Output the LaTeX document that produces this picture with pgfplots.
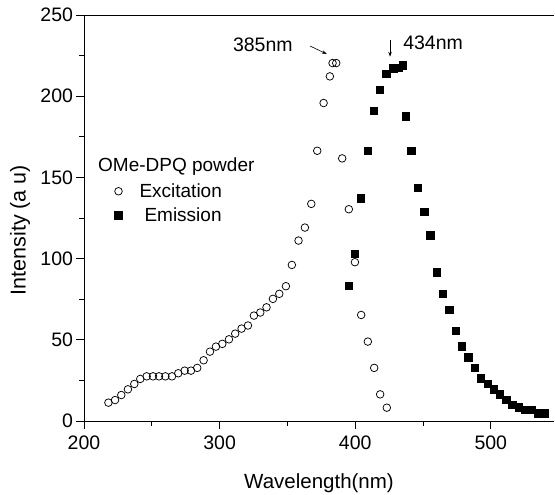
\documentclass[border=0pt]{standalone}
\usepackage{pgfplots}
\pgfplotsset{compat=1.18}
\usepackage{fontspec}
\setmainfont{Liberation Sans}
\usetikzlibrary{arrows.meta}
\begin{document}
\begin{tikzpicture}
\begin{axis}[
 scale only axis, width=470bp, height=406bp,
 xmin=200, xmax=546.6, ymin=0, ymax=250,
 axis x line*=bottom, axis y line*=left,
 xtick={200,300,400,500}, ytick={0,50,...,250},
 minor x tick num=1, minor y tick num=1,
 tick align=outside, major tick length=7.5bp, minor tick length=4.5bp,
 tick style={black, line width=0.9bp},
 axis line style={line width=0.9bp},
 /pgf/number format/assume math mode=true,
 ticklabel style={font=\fontsize{19.5bp}{23bp}\selectfont},
 xticklabel style={yshift=-4bp},
 xlabel={Wavelength(nm)}, ylabel={Intensity (a u)},
 label style={font=\fontsize{20.5bp}{24bp}\selectfont},
 xlabel style={at={([yshift=-67bp]axis description cs:0.5,0)}, anchor=base},
 ylabel style={at={([xshift=-64bp]axis description cs:0,0.47)}, anchor=center, font=\fontsize{21.5bp}{25bp}\selectfont},
 legend style={at={(axis cs:222.5,147.5)}, anchor=north west, draw=none, fill=none,
   font=\fontsize{19bp}{23bp}\selectfont, row sep=5bp, inner sep=0pt},
 legend cell align=left,
 legend image code/.code={\draw[#1] plot coordinates {(0bp,0bp)}; \path[draw=none] (19bp,0bp);},
]
\coordinate (O) at (rel axis cs:0,0);
\draw[line width=0.9bp] (rel axis cs:0,1) -- (rel axis cs:1,1);
\addplot[only marks, mark=o, mark size=3.8bp, mark options={line width=0.75bp, black}] table {
218 11.3
222.9 12.9
227.5 16
232.4 19.5
237.1 22.8
241.5 25.9
246.2 27.5
250.9 27.5
255.3 27.5
260 27.5
264.9 27.5
269.5 29.4
274.2 31
278.9 31
283.5 32.7
288.2 37.4
292.9 42.7
297.3 45.8
302 47.5
306.9 50.3
311.5 53.8
316.2 56.9
320.9 58.8
325.3 64.9
330 66.8
334.6 70
339.3 75.2
344 78.3
348.9 83
353.3 96.1
358.2 111.1
362.9 119.1
367.6 133.7
372 166.4
376.7 195.8
381.3 212.2
383.3 220.4
386 220.4
390.4 161.7
395.3 130.4
399.8 97.8
404.4 65.3
409.3 48.9
414 32.7
418.4 16.4
423.3 8.2
};
\addlegendentry{Excitation}
\addplot[only marks, mark=square*, mark size=3.7bp, mark options={black, line width=0pt}] table {
395.3 83.2
399.8 102.7
404.4 137
409.3 166.4
413.8 191
418.3 204
423.2 213.8
428.1 217
432.3 217.5
435.3 218.8
437.3 187.6
441.5 166.4
446.4 143.4
451.1 128.8
455.5 114.2
460.2 91.4
464.9 78.3
469.5 68.4
474.2 55.5
478.9 45.8
483.5 39.2
488.2 32.7
492.9 26.1
497.8 22.8
502.2 19.5
506.9 16.2
511.5 12.9
515.9 9.9
520.9 8.2
525.3 6.6
529.9 6.6
534.8 4.7
539.6 4.7
};
\addlegendentry{\hspace{5bp}Emission}
\node[anchor=west, font=\fontsize{19bp}{23bp}\selectfont, inner sep=0pt] at (axis cs:210.3,156.4) {OMe-DPQ powder};
\node[anchor=east, font=\fontsize{19.5bp}{23bp}\selectfont, inner sep=0pt] at (axis cs:354,231.5) {385nm};
\draw[-{Stealth[length=5bp,width=3.5bp]}, line width=0.6bp] (axis cs:366.7,230.9) -- (axis cs:379,226);
\node[anchor=west, font=\fontsize{19.5bp}{23bp}\selectfont, inner sep=0pt] at (axis cs:435.3,232.8) {434nm};
\draw[-{Stealth[length=5bp,width=3.5bp]}, line width=0.6bp] (axis cs:425.7,234.5) -- (axis cs:425.7,224.3);
\end{axis}
\pgfresetboundingbox
\path[use as bounding box] ([shift={(-84bp,-74bp)}]O) rectangle ([shift={(471bp,421bp)}]O);
\end{tikzpicture}
\end{document}
